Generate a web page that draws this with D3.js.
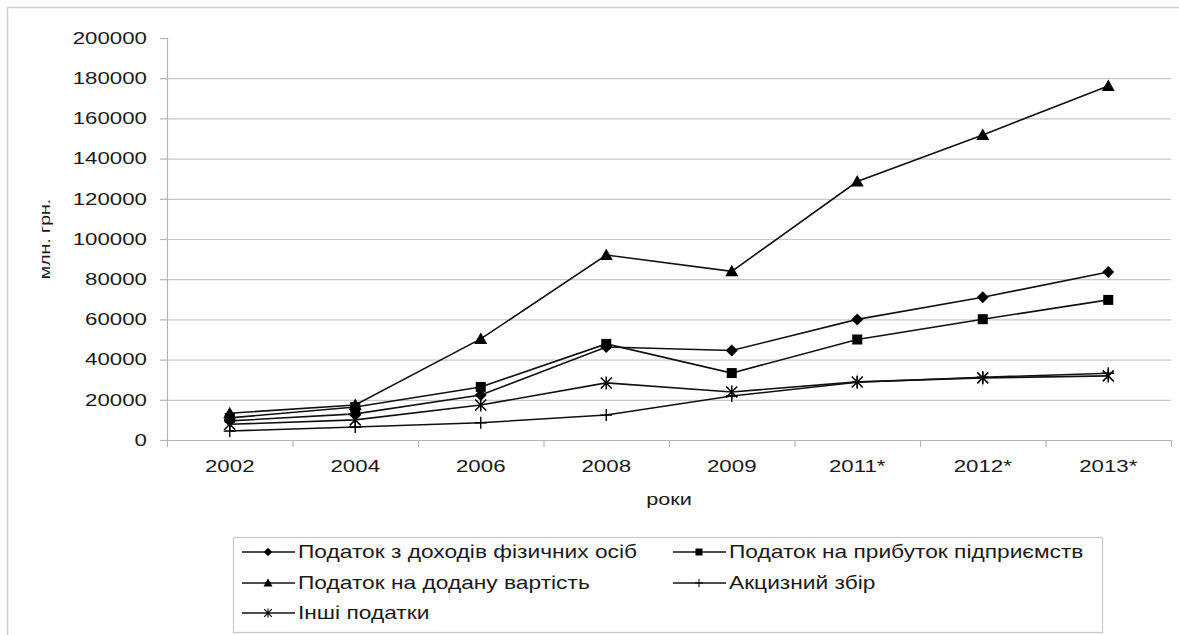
<!DOCTYPE html>
<html>
<head>
<meta charset="utf-8">
<script src="https://cdn.jsdelivr.net/npm/d3@7"></script>
<style>
  body { margin: 0; background: #fff; }
  svg { display: block; font-family: "Liberation Sans", Arial, sans-serif; }
</style>
</head>
<body>
<div id="chart"></div>
<script>
// Tax revenues, млн. грн.
const years = ["2002", "2004", "2006", "2008", "2009", "2011*", "2012*", "2013*"];
const pdfo    = [9500, 13000, 22400, 46300, 44500, 60000, 71000, 83600];
const profit  = [11000, 16400, 26400, 47800, 33300, 50000, 60100, 69700];
const vat     = [13300, 17400, 50300, 92000, 83900, 128600, 151800, 176100];
const excise  = [4500, 6500, 8600, 12400, 21900, 28700, 31200, 33200];
const other   = [7800, 10000, 17400, 28400, 23900, 28900, 30900, 31900];
const yTicks  = d3.range(0, 200001, 20000);

const series = [
    { name: "Податок з доходів фізичних осіб", values: pdfo, marker: "diamond" },
    { name: "Податок на прибуток підприємств", values: profit, marker: "square" },
    { name: "Податок на додану вартість", values: vat, marker: "triangle" },
    { name: "Акцизний збір", values: excise, marker: "plus" },
    { name: "Інші податки", values: other, marker: "star" }
];

const width = 1179, height = 635;
const svg = d3.select("#chart").append("svg")
    .attr("width", width)
    .attr("height", height);

// outer frame
svg.append("rect")
    .attr("x", 7.5).attr("y", 7.5)
    .attr("width", width + 10).attr("height", height + 10)
    .attr("fill", "none").attr("stroke", "#d0d0d0").attr("stroke-width", 1.5);

const x = d3.scaleBand().domain(years).range([167, 1171]);
const y = d3.scaleLinear().domain([0, 200000]).range([440, 38]);

const textCol = "#1a1a1a";
// the source font is drawn quite wide, so stretch text horizontally
function wideText(parent, tx, ty, str, size, sx, anchor, rot) {
    return parent.append("text")
        .attr("transform", `translate(${tx},${ty})` + (rot ? ` rotate(${rot})` : "") + ` scale(${sx},1)`)
        .attr("text-anchor", anchor)
        .attr("dy", "0.35em")
        .style("font-size", size + "px")
        .attr("fill", textCol)
        .text(str);
}

// gridlines
svg.append("g").selectAll("line")
    .data(yTicks.filter(d => d > 0 && d < 200000))
    .join("line")
    .attr("x1", x.range()[0]).attr("x2", x.range()[1])
    .attr("y1", d => y(d) + 0.5).attr("y2", d => y(d) + 0.5)
    .attr("stroke", "#c8c8c8").attr("stroke-width", 1.2);

// axes
const axisCol = "#b4b4b4";
svg.append("line")
    .attr("x1", 167.5).attr("x2", 167.5).attr("y1", y(200000)).attr("y2", y(0))
    .attr("stroke", axisCol).attr("stroke-width", 1.2);
svg.append("line")
    .attr("x1", 167).attr("x2", 1171).attr("y1", y(0) + 0.5).attr("y2", y(0) + 0.5)
    .attr("stroke", axisCol).attr("stroke-width", 1.2);

svg.append("g").selectAll("line")
    .data(yTicks).join("line")
    .attr("x1", 160).attr("x2", 167)
    .attr("y1", d => y(d) + 0.5).attr("y2", d => y(d) + 0.5)
    .attr("stroke", axisCol).attr("stroke-width", 1.2);

svg.append("g").selectAll("line")
    .data(years.concat(["end"])).join("line")
    .attr("x1", (d, i) => x.range()[0] + i * x.bandwidth() + 0.5)
    .attr("x2", (d, i) => x.range()[0] + i * x.bandwidth() + 0.5)
    .attr("y1", y(0)).attr("y2", y(0) + 7)
    .attr("stroke", axisCol).attr("stroke-width", 1.2);

const yLab = svg.append("g");
yTicks.forEach(t => wideText(yLab, 147, y(t), String(t), 16.5, 1.35, "end"));

const xLab = svg.append("g");
years.forEach(yr => wideText(xLab, x(yr) + x.bandwidth() / 2, 466, yr, 16.5, 1.35, "middle"));

wideText(svg, 669, 499, "роки", 16, 1.35, "middle");
wideText(svg, 45, y(100000), "млн. грн.", 15, 1.3, "middle", -90);

// markers
function drawMarker(g, type, cx, cy) {
    if (type === "diamond") {
        g.append("path").attr("d", `M${cx},${cy - 6}L${cx + 6},${cy}L${cx},${cy + 6}L${cx - 6},${cy}Z`).attr("fill", "#000");
    } else if (type === "square") {
        g.append("rect").attr("x", cx - 5).attr("y", cy - 5).attr("width", 10).attr("height", 10).attr("fill", "#000");
    } else if (type === "triangle") {
        g.append("path").attr("d", `M${cx},${cy - 6.5}L${cx + 6.5},${cy + 5}L${cx - 6.5},${cy + 5}Z`).attr("fill", "#000");
    } else if (type === "plus") {
        g.append("path").attr("d", `M${cx - 6},${cy}H${cx + 6}M${cx},${cy - 6}V${cy + 6}`)
            .attr("stroke", "#000").attr("stroke-width", 1.4).attr("fill", "none");
    } else if (type === "star") {
        g.append("path").attr("d", `M${cx - 5.5},${cy - 5.5}L${cx + 5.5},${cy + 5.5}M${cx + 5.5},${cy - 5.5}L${cx - 5.5},${cy + 5.5}M${cx},${cy - 6.5}V${cy + 6.5}`)
            .attr("stroke", "#000").attr("stroke-width", 1.5).attr("fill", "none");
    }
}

const line = d3.line()
    .x((d, i) => x(years[i]) + x.bandwidth() / 2)
    .y(d => y(d));

const plot = svg.append("g");
series.slice().reverse().forEach(s => {
    plot.append("path")
        .attr("d", line(s.values))
        .attr("fill", "none")
        .attr("stroke", "#111")
        .attr("stroke-width", 1.6);
});
series.forEach(s => {
    const g = plot.append("g");
    s.values.forEach((v, i) => drawMarker(g, s.marker, x(years[i]) + x.bandwidth() / 2, y(v)));
});

// legend
const legend = svg.append("g");
legend.append("rect")
    .attr("x", 233.5).attr("y", 537.5).attr("width", 869).attr("height", 95)
    .attr("fill", "#fff").attr("stroke", "#c8c8c8").attr("stroke-width", 1.2);

const colX = [242, 673];
const rowY = [552, 583, 613];
series.forEach((s, i) => {
    const lx = colX[i % 2], ly = rowY[Math.floor(i / 2)];
    legend.append("line")
        .attr("x1", lx).attr("x2", lx + 53).attr("y1", ly).attr("y2", ly)
        .attr("stroke", "#111").attr("stroke-width", 1.6);
    const mg = legend.append("g").attr("transform", `translate(${lx + 26},${ly}) scale(0.7)`);
    drawMarker(mg, s.marker, 0, 0);
    wideText(legend, lx + 56, ly, s.name, 17.5, 1.3, "start");
});
</script>
</body>
</html>
